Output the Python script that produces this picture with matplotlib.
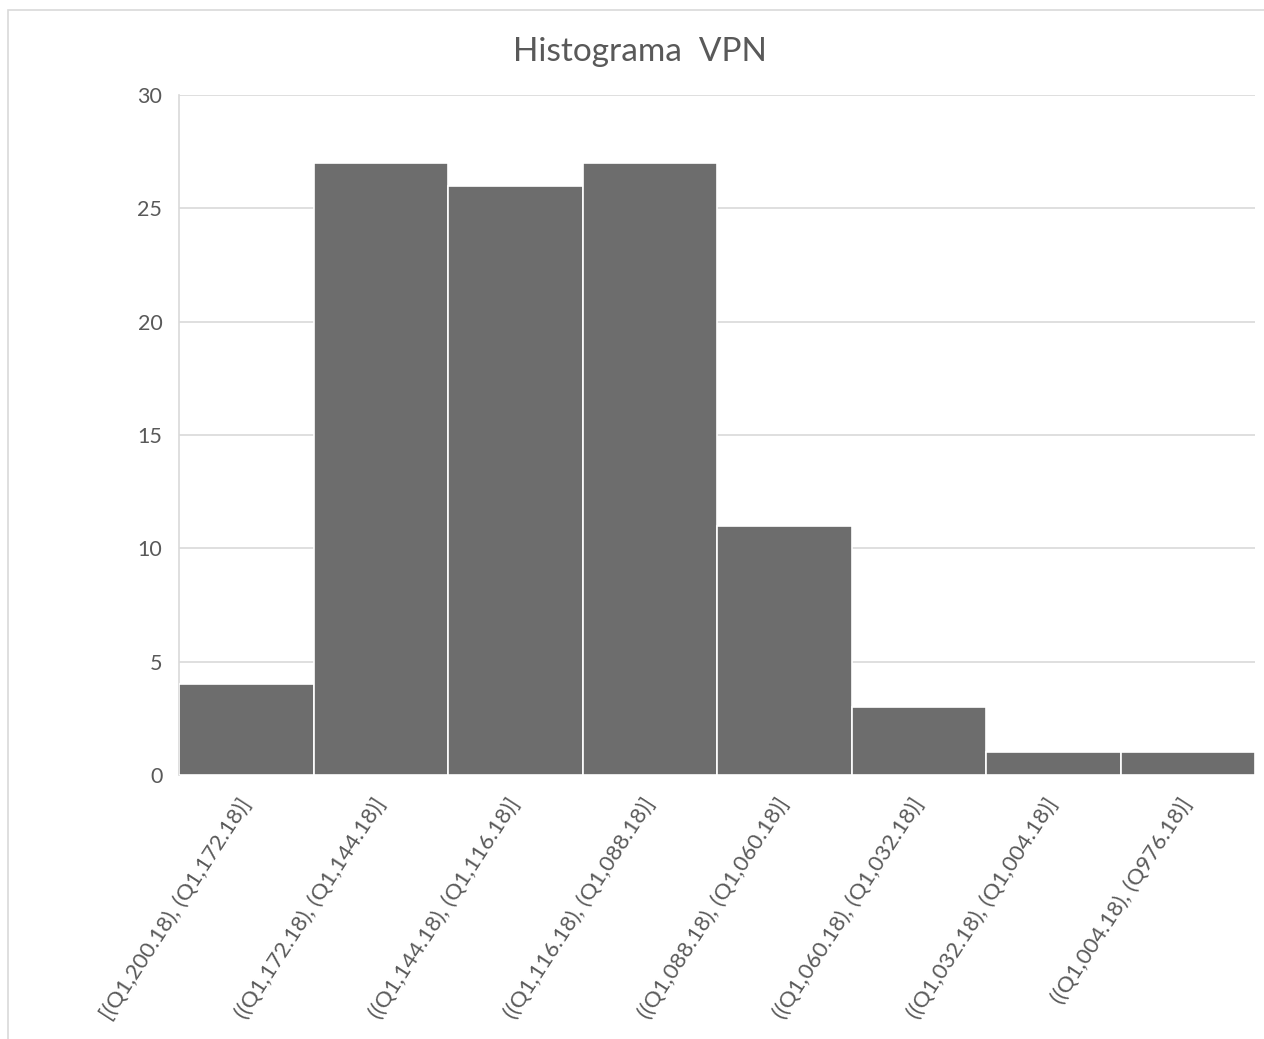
import matplotlib.pyplot as plt
from matplotlib.patches import Rectangle

# Histogram of VPN values, bins descending
BAR_GREY = '#6d6d6d'
GRID_GREY = '#d9d9d9'
TEXT_GREY = '#595959'

bins = ['[(Q1,200.18), (Q1,172.18)]',
        '((Q1,172.18), (Q1,144.18)]',
        '((Q1,144.18), (Q1,116.18)]',
        '((Q1,116.18), (Q1,088.18)]',
        '((Q1,088.18), (Q1,060.18)]',
        '((Q1,060.18), (Q1,032.18)]',
        '((Q1,032.18), (Q1,004.18)]',
        '((Q1,004.18), (Q976.18)]']
counts = [4, 27, 26, 27, 11, 3, 1, 1]

plt.rcParams['font.family'] = ['Lato', 'DejaVu Sans']

fig = plt.figure(figsize=(12.64, 10.39), dpi=100)
fig.patches.append(Rectangle((8 / 1264, -0.1), 1.1, 1.1 - 10 / 1039,
                             transform=fig.transFigure, fill=False,
                             edgecolor=GRID_GREY, linewidth=1.2))

ax = fig.add_axes([179 / 1264, 1 - 775 / 1039, (1255 - 179) / 1264, (775 - 95) / 1039])

x = list(range(len(bins)))
ax.bar(x, counts, width=1.0, color=BAR_GREY, edgecolor='white', linewidth=1.2, zorder=3)

ax.set_xlim(-0.5, len(bins) - 0.5)
ax.set_ylim(0, 30)
ax.set_yticks(range(0, 31, 5))
ax.yaxis.grid(True, color=GRID_GREY, linewidth=1.2, zorder=0)
ax.set_axisbelow(True)

ax.set_xticks(x)
ax.set_xticklabels(bins, rotation=57, ha='right', va='center', rotation_mode='anchor',
                   fontsize=16, color=TEXT_GREY)
ax.tick_params(axis='x', length=0, pad=18)
ax.tick_params(axis='y', length=0, pad=12, labelsize=15.5, labelcolor=TEXT_GREY)

for side in ['top', 'right', 'bottom']:
    ax.spines[side].set_visible(False)
ax.spines['left'].set_color(GRID_GREY)
ax.spines['left'].set_linewidth(1.2)

fig.text(640 / 1264, 1 - 52 / 1039, 'Histograma  VPN',
         ha='center', va='center', fontsize=24, color=TEXT_GREY)

plt.savefig('out.png', dpi=100)
